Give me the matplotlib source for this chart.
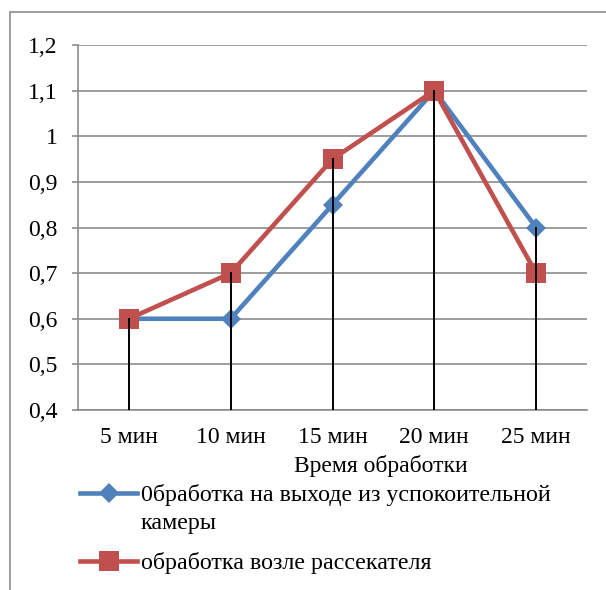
import matplotlib
matplotlib.use("Agg")
import matplotlib.pyplot as plt
from matplotlib.patches import Rectangle
from matplotlib.lines import Line2D
from matplotlib.ticker import FuncFormatter

categories = ["5 мин", "10 мин", "15 мин", "20 мин", "25 мин"]
series_blue = [0.6, 0.6, 0.85, 1.1, 0.8]
series_red = [0.6, 0.7, 0.95, 1.1, 0.7]
label_blue = "0бработка на выходе из успокоительной\nкамеры"
label_red = "обработка возле рассекателя"
xlabel = "Время обработки"

plt.rcParams['font.family'] = ['Liberation Serif', 'DejaVu Serif']
W, H = 606, 590
FS = 17
fig = plt.figure(figsize=(W/100, H/100), dpi=100)

# outer chart frame
fig.patches.append(Rectangle((10/W, -0.2), 1.2, 1 - 12/H + 0.2, transform=fig.transFigure,
                             fill=False, edgecolor='#8c8c8c', linewidth=1.2))

ax = fig.add_axes([78/W, 1 - 410/H, (587-78)/W, (410-45)/H])
x = list(range(len(categories)))

blue = '#4F81BD'
red = '#C0504D'
style_b = dict(color=blue, linewidth=3.3, marker='D', markersize=10.5, markeredgewidth=0)
style_r = dict(color=red, linewidth=3.3, marker='s', markersize=14, markeredgewidth=0)
ax.plot(x, series_blue, zorder=3, **style_b)
ax.plot(x, series_red, zorder=4, **style_r)

ymin = 0.4
# drop lines (drawn over the markers, as in the reference)
for i in x:
    top = max(series_blue[i], series_red[i])
    ax.plot([i, i], [ymin, top], color='black', linewidth=1.4, zorder=5)

ax.set_xlim(-0.5, len(categories) - 0.5)
ax.set_ylim(0.4, 1.2)
ax.set_yticks([0.4, 0.5, 0.6, 0.7, 0.8, 0.9, 1.0, 1.1, 1.2])
ax.yaxis.set_major_formatter(FuncFormatter(lambda v, p: ("%g" % round(v, 1)).replace('.', ',')))
ax.set_xticks(x)
ax.set_xticklabels(categories)
ax.grid(axis='y', color='#8c8c8c', linewidth=1.2)
ax.set_axisbelow(True)
for s in ['top', 'right']:
    ax.spines[s].set_visible(False)
for s in ['left', 'bottom']:
    ax.spines[s].set_color('#8c8c8c')
    ax.spines[s].set_linewidth(1.2)
ax.tick_params(axis='y', length=4.5, width=1.2, color='#8c8c8c', pad=10, labelsize=FS)
ax.tick_params(axis='x', length=0, pad=12, labelsize=FS)

ax.set_xlabel(xlabel, fontsize=FS)
ax.xaxis.set_label_coords(0.595, -0.122)

# legend (drawn manually so that the marker sits on the first text line)
def legend_entry(y_px, style, text):
    fig.add_artist(Line2D([80/W, 108.5/W, 137/W], [1 - y_px/H] * 3, transform=fig.transFigure,
                          markevery=[1], **style))
    for k, ln in enumerate(text.split("\n")):
        fig.text(141/W, 1 - (y_px + 28 * k)/H, ln, fontsize=17.3, va='center_baseline', ha='left')

legend_entry(493, style_b, label_blue)
legend_entry(561, style_r, label_red)

fig.savefig("out.png", dpi=100)
